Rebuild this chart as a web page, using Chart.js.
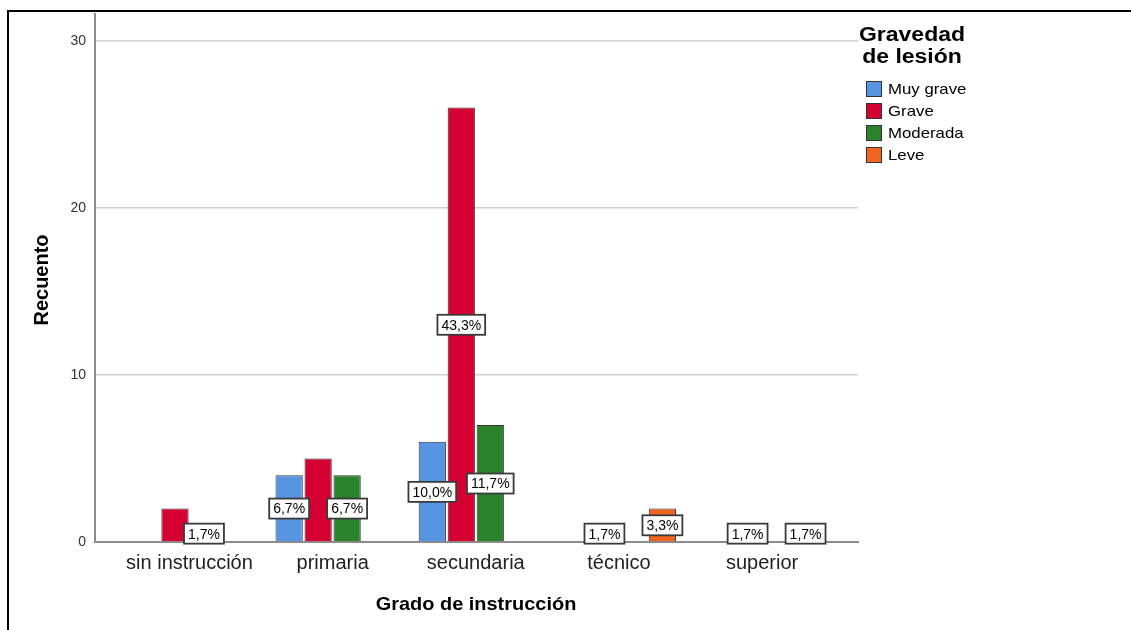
<!DOCTYPE html>
<html>
<head>
<meta charset="utf-8">
<script src="https://cdn.jsdelivr.net/npm/chart.js@4.4.1/dist/chart.umd.min.js"></script>
<style>
  html, body { margin: 0; padding: 0; background: #fff; }
  #wrap { position: relative; width: 1131px; height: 630px; overflow: hidden; }
  #frame { position: absolute; left: 7px; top: 10px; right: -5px; bottom: -5px; border-top: 2px solid #000; border-left: 2px solid #000; pointer-events: none; }
</style>
</head>
<body>
<div id="wrap">
  <canvas id="grafico" width="1131" height="630"></canvas>
  <div id="frame"></div>
</div>
<script>
// Datos (recuento por grado de instrucción)
const categorias = ['sin instrucción', 'primaria', 'secundaria', 'técnico', 'superior'];
const series = ['Muy grave', 'Grave', 'Moderada', 'Leve'];
const muyGrave = [null, 4, 6, null, null];
const grave = [2, 5, 26, 1, 1];
const moderada = [1, 4, 7, null, null];
const leve = [null, null, null, 2, 1];
// etiquetas de porcentaje visibles en el gráfico
const etiqMuyGrave = [null, '6,7%', '10,0%', null, null];
const etiqGrave = [null, null, '43,3%', '1,7%', '1,7%'];
const etiqModerada = ['1,7%', '6,7%', '11,7%', null, null];
const etiqLeve = [null, null, null, '3,3%', '1,7%'];
const yTicks = [0, 10, 20, 30];

const colores = ['#5795e3', '#d50032', '#2a832a', '#f0651f'];
const valores = [muyGrave, grave, moderada, leve];
const etiquetas = [etiqMuyGrave, etiqGrave, etiqModerada, etiqLeve];

const FONT = '"Liberation Sans", Arial, sans-serif';

function texto(ctx, str, x, y, font, sx, align) {
    ctx.save();
    ctx.font = font;
    ctx.translate(x, y);
    ctx.scale(sx, 1);
    ctx.textAlign = align;
    ctx.textBaseline = 'middle';
    ctx.fillStyle = '#000';
    ctx.fillText(str, 0, 0);
    ctx.restore();
}

const extrasPlugin = {
    id: 'extras',
    afterDatasetsDraw(chart) {
        const ctx = chart.ctx;
        const yScale = chart.scales.y;
        // etiquetas de porcentaje en el centro de cada barra
        valores.forEach((serie, d) => {
            const meta = chart.getDatasetMeta(d);
            serie.forEach((v, i) => {
                const et = etiquetas[d][i];
                if (!et || v === null) return;
                const el = meta.data[i];
                const y = yScale.getPixelForValue(v / 2);
                ctx.save();
                ctx.font = '14px ' + FONT;
                const w = ctx.measureText(et).width + 8;
                const h = 20;
                ctx.fillStyle = '#fff';
                ctx.fillRect(el.x - w / 2, y - h / 2, w, h);
                ctx.strokeStyle = '#3a3a3a';
                ctx.lineWidth = 1.8;
                ctx.strokeRect(el.x - w / 2, y - h / 2, w, h);
                ctx.restore();
                texto(ctx, et, el.x, y + 1, '14px ' + FONT, 1, 'center');
            });
        });
    },
    afterDraw(chart) {
        const ctx = chart.ctx;
        // títulos de ejes
        texto(ctx, 'Grado de instrucción', 476, 605, 'bold 19px ' + FONT, 1.05, 'center');
        ctx.save();
        ctx.translate(42, 280);
        ctx.rotate(-Math.PI / 2);
        texto(ctx, 'Recuento', 0, 0, 'bold 20px ' + FONT, 1, 'center');
        ctx.restore();

        // leyenda
        texto(ctx, 'Gravedad', 912, 35, 'bold 20px ' + FONT, 1.15, 'center');
        texto(ctx, 'de lesión', 912, 57, 'bold 20px ' + FONT, 1.15, 'center');
        series.forEach((s, i) => {
            const cy = 89 + i * 22;
            ctx.save();
            ctx.fillStyle = colores[i];
            ctx.fillRect(866, cy - 8, 16, 16);
            ctx.strokeStyle = '#333';
            ctx.lineWidth = 1;
            ctx.strokeRect(866.5, cy - 7.5, 15, 15);
            ctx.restore();
            texto(ctx, s, 888, cy + 1, '15px ' + FONT, 1.12, 'left');
        });
    }
};

const ctx = document.getElementById('grafico').getContext('2d');
const grafico = new Chart(ctx, {
    type: 'bar',
    data: {
        datasets: valores.map((serie, d) => ({
            label: series[d],
            data: serie.map((v, i) => ({ x: i, y: v })),
            backgroundColor: colores[d],
            borderColor: '#333',
            borderWidth: 1,
            categoryPercentage: 0.81,
            barPercentage: 0.94
        }))
    },
    plugins: [extrasPlugin],
    options: {
        responsive: false,
        animation: false,
        layout: { padding: { left: 0, top: 0, right: 273, bottom: 0 } },
        plugins: { legend: { display: false }, tooltip: { enabled: false } },
        scales: {
            x: {
                type: 'linear',
                offset: false,
                min: -0.66,
                max: 4.67,
                afterBuildTicks: s => { s.ticks = categorias.map((c, i) => ({ value: i })); },
                afterFit: s => { s.height = 88; },
                grid: { display: false, drawTicks: false },
                border: { display: true, color: '#8c8c8c', width: 2 },
                ticks: {
                    autoSkip: false,
                    maxRotation: 0,
                    padding: 9,
                    color: '#222',
                    font: { family: FONT, size: 20 },
                    callback: (v, i) => categorias[i]
                }
            },
            y: {
                min: 0,
                max: 31.6,
                afterBuildTicks: s => { s.ticks = yTicks.map(v => ({ value: v })); },
                afterFit: s => { s.width = 95; s.paddingTop = 14; },
                grid: { color: '#d0d0d0', lineWidth: 1.5, drawTicks: false },
                border: { display: true, color: '#8c8c8c', width: 2 },
                ticks: {
                    padding: 9,
                    color: '#333',
                    font: { family: FONT, size: 14 }
                }
            }
        }
    }
});
</script>
</body>
</html>
